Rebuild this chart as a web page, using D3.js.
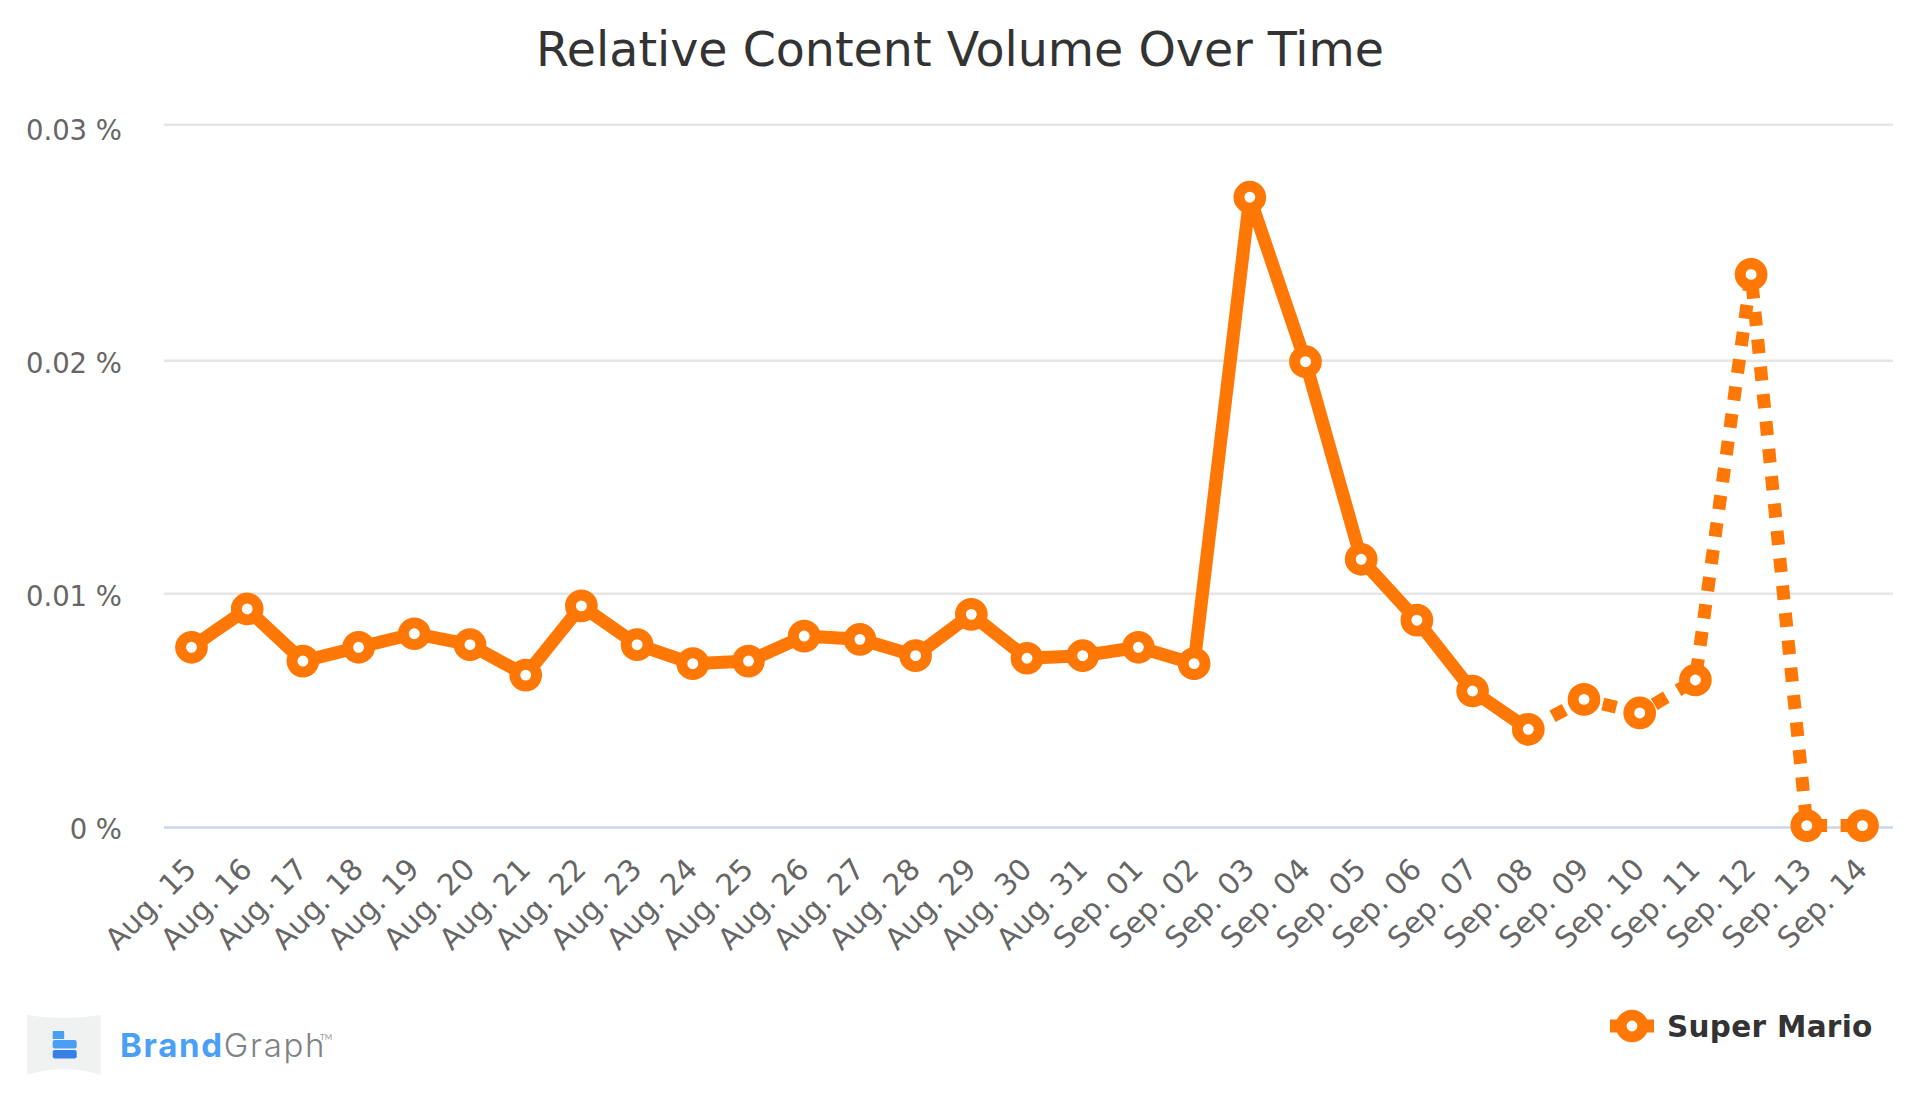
<!DOCTYPE html>
<html>
<head>
<meta charset="utf-8">
<title>Relative Content Volume Over Time</title>
<script src="https://cdn.jsdelivr.net/npm/d3@7"></script>
<style>
	html, body { margin: 0; padding: 0; background: #fff; }
	svg { display: block; }
	text { font-family: "DejaVu Sans", sans-serif; }
</style>
</head>
<body>
<svg id="chart"></svg>
<script>
const days = [
	'Aug. 15', 'Aug. 16', 'Aug. 17', 'Aug. 18', 'Aug. 19', 'Aug. 20', 'Aug. 21', 'Aug. 22',
	'Aug. 23', 'Aug. 24', 'Aug. 25', 'Aug. 26', 'Aug. 27', 'Aug. 28', 'Aug. 29', 'Aug. 30',
	'Aug. 31', 'Sep. 01', 'Sep. 02', 'Sep. 03', 'Sep. 04', 'Sep. 05', 'Sep. 06', 'Sep. 07',
	'Sep. 08', 'Sep. 09', 'Sep. 10', 'Sep. 11', 'Sep. 12', 'Sep. 13', 'Sep. 14'
]
const volume = [
	0.00769, 0.00933, 0.00710, 0.00769, 0.00827, 0.00780, 0.00650, 0.00946,
	0.00780, 0.00699, 0.00710, 0.00817, 0.00803, 0.00733, 0.00910, 0.00722,
	0.00733, 0.00769, 0.00699, 0.02691, 0.01994, 0.01146, 0.00885, 0.00582,
	0.00418, 0.00546, 0.00488, 0.00629, 0.02364, 0.00006, 0.00006
]
const yTicks = [0, 0.01, 0.02, 0.03]
const lastSolid = 'Sep. 08' // data after this day is drawn dotted
const seriesName = 'Super Mario'

const W = 1920, H = 1097
const left = 164, right = 1893
const orange = '#ff7805'

const svg = d3.select('#chart').attr('width', W).attr('height', H)

const x = d3.scalePoint().domain(days).range([191.5, 1862.5])
// gridlines in the picture are not quite evenly spaced
const y = d3.scaleLinear().domain(yTicks).range([827, 593.3, 360.3, 124.3])
const yLabel = d3.scaleLinear().domain([0, 0.03]).range([829, 130])

// title
svg.append('text')
	.attr('x', 960).attr('y', 66)
	.attr('text-anchor', 'middle')
	.attr('font-size', 47.5)
	.attr('fill', '#333')
	.text('Relative Content Volume Over Time')

// y axis + grid
const yAxis = svg.append('g')
	.attr('transform', `translate(${left},0)`)
	.call(d3.axisLeft(y).tickValues(yTicks).tickSize(-(right - left)).tickPadding(42).tickFormat(d => `${d} %`))
yAxis.select('.domain').remove()
yAxis.selectAll('.tick line')
	.attr('stroke', d => d === 0 ? '#ccd6eb' : '#e6e6e6')
	.attr('stroke-width', 2.4)
yAxis.selectAll('.tick text')
	.attr('y', d => yLabel(d) - y(d))
	.attr('dy', '0.36em')
	.attr('font-size', 27.5)
	.attr('fill', '#666')

// x axis
const xAxis = svg.append('g')
	.attr('transform', 'translate(0,827)')
	.call(d3.axisBottom(x).tickSize(0).tickPadding(0))
xAxis.select('.domain').remove()
xAxis.selectAll('.tick text')
	.attr('text-anchor', 'end')
	.attr('x', 6).attr('y', 44).attr('dy', 0)
	.attr('transform', 'rotate(-45 6 44)')
	.attr('font-size', 29.5)
	.attr('fill', '#666')

// series
const line = d3.line().x(d => x(d.day)).y(d => y(d.value))
const points = days.map((day, i) => ({ day, value: volume[i] }))
const split = days.indexOf(lastSolid)

svg.append('path')
	.datum(points.slice(0, split + 1))
	.attr('d', line)
	.attr('fill', 'none')
	.attr('stroke', orange)
	.attr('stroke-width', 13)
	.attr('stroke-linejoin', 'round')

svg.append('path')
	.datum(points.slice(split))
	.attr('d', line)
	.attr('fill', 'none')
	.attr('stroke', orange)
	.attr('stroke-width', 13)
	.attr('stroke-dasharray', '14 13.5')

svg.append('g')
	.selectAll('circle')
	.data(points).enter()
	.append('circle')
	.attr('cx', d => x(d.day))
	.attr('cy', d => y(d.value))
	.attr('r', 10.9)
	.attr('fill', '#fff')
	.attr('stroke', orange)
	.attr('stroke-width', 10.9)

// legend
const legend = svg.append('g').attr('transform', 'translate(1632,1026)')
legend.append('line')
	.attr('x1', -22).attr('x2', 22)
	.attr('stroke', orange)
	.attr('stroke-width', 13)
legend.append('circle')
	.attr('r', 10.9)
	.attr('fill', '#fff')
	.attr('stroke', orange)
	.attr('stroke-width', 10.9)
legend.append('text')
	.attr('x', 35).attr('y', 11)
	.attr('font-size', 29.5)
	.attr('font-weight', 'bold')
	.attr('letter-spacing', 0.3)
	.attr('fill', '#333')
	.text(seriesName)

// logo
const logo = svg.append('g')
logo.append('path')
	.attr('d', 'M27,1015 Q64,1021 100.7,1015 L100.7,1075 Q64,1063 27,1075 Z')
	.attr('fill', '#f0f2f2')
logo.append('rect').attr('x', 52.7).attr('y', 1031).attr('width', 11.5).attr('height', 8).attr('rx', 1).attr('fill', '#4a9ff5')
logo.append('rect').attr('x', 52.7).attr('y', 1040).attr('width', 24).attr('height', 8.5).attr('rx', 2).attr('fill', '#4a9ff5')
logo.append('rect').attr('x', 52.7).attr('y', 1050).attr('width', 24).attr('height', 8.5).attr('rx', 2).attr('fill', '#3880e5')
const logoText = logo.append('text')
	.attr('x', 120).attr('y', 1057)
	.attr('font-size', 33)
	.attr('letter-spacing', 1.7)
	.style('font-family', 'Inter, sans-serif')
logoText.append('tspan').attr('font-weight', 700).attr('fill', '#4a9ff7').text('Brand')
logoText.append('tspan').attr('font-weight', 300).attr('fill', '#808285').text('Graph')
logo.append('text')
	.attr('x', 320).attr('y', 1040)
	.attr('font-size', 8)
	.attr('fill', '#999')
	.style('font-family', 'Lato, sans-serif')
	.text('TM')
</script>
</body>
</html>
